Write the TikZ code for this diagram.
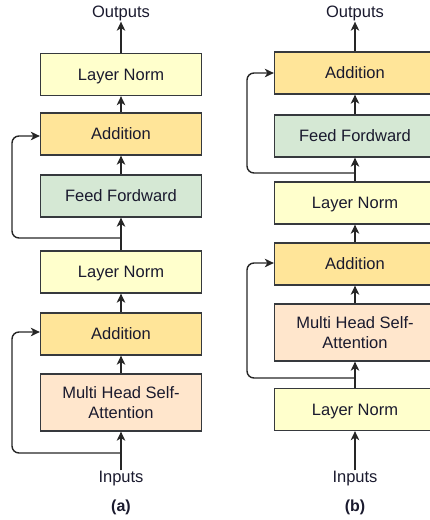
\documentclass[tikz,border=0pt]{standalone}
\usepackage{fontspec}
\setmainfont{Liberation Sans}
\usetikzlibrary{arrows.meta,calc}
\definecolor{lnfill}{HTML}{FFFFCC}
\definecolor{addfill}{HTML}{FFE599}
\definecolor{fffill}{HTML}{D5E8D4}
\definecolor{mhfill}{HTML}{FFE6CC}
\definecolor{edge}{HTML}{36393D}
\definecolor{txt}{HTML}{1A1A2E}
\tikzset{
  blk/.style={draw=edge, line width=1.3pt, minimum width=161pt, minimum height=42pt, inner sep=0pt, align=center, font=\fontsize{16.5}{20}\selectfont, text=txt},
  one/.style={text height=11.8pt, text depth=0pt},
  lnbox/.style={blk, one, fill=lnfill},
  addbox/.style={blk, one, fill=addfill},
  ffbox/.style={blk, one, fill=fffill},
  mhbox/.style={blk, fill=mhfill, minimum height=57pt},
  io/.style={font=\fontsize{16.5}{20}\selectfont, text=txt, inner sep=1pt},
  captxt/.style={font=\bfseries\fontsize{16}{19}\selectfont, text=txt},
  arr/.style={line width=1.4pt, draw=black!85, -{Stealth[length=9pt,width=8.5pt,inset=2.5pt]}},
  skip/.style={arr, rounded corners=7pt}
}
\begin{document}
\begin{tikzpicture}[x=1pt,y=-1pt]
\useasboundingbox (0,0) rectangle (430,520);
% (a)
\node[io] (outa) at (121,13) {Outputs};
\node[lnbox] (lna1) at (121,74.5) {Layer Norm};
\node[addbox] (adda1) at (121,134) {Addition};
\node[ffbox] (ffa) at (121,196) {Feed Fordward};
\node[lnbox] (lna2) at (121,272) {Layer Norm};
\node[addbox] (adda2) at (121,334) {Addition};
\node[mhbox] (mha) at (121,402.5) {Multi Head Self-\\Attention};
\node[io] (ina) at (121,479) {Inputs};
\node[captxt] (capa) at (121,507) {(a)};
\draw[arr] (lna1) -- (outa);
\draw[arr] (adda1) -- (lna1);
\draw[arr] (ffa) -- (adda1);
\draw[arr] (lna2) -- (ffa);
\draw[arr] (adda2) -- (lna2);
\draw[arr] (mha) -- (adda2);
\draw[arr] (ina) -- (mha);
\coordinate (sa1) at (121,238);
\coordinate (sa2) at (121,453);
\draw[skip] (sa1) -- (12,238) -- (12,136) -- (adda1.west |- 0,136);
\draw[skip] (sa2) -- (12,453) -- (12,332) -- (adda2.west |- 0,332);
% (b)
\node[io] (outb) at (355,13) {Outputs};
\node[addbox] (addb1) at (355,73) {Addition};
\node[ffbox] (ffb) at (355,136) {Feed Fordward};
\node[lnbox] (lnb1) at (355,203) {Layer Norm};
\node[addbox] (addb2) at (355,264) {Addition};
\node[mhbox] (mhb) at (355,332.5) {Multi Head Self-\\Attention};
\node[lnbox] (lnb2) at (355,409.5) {Layer Norm};
\node[io] (inb) at (355,479) {Inputs};
\node[captxt] (capb) at (355,507) {(b)};
\draw[arr] (addb1) -- (outb);
\draw[arr] (ffb) -- (addb1);
\draw[arr] (lnb1) -- (ffb);
\draw[arr] (addb2) -- (lnb1);
\draw[arr] (mhb) -- (addb2);
\draw[arr] (lnb2) -- (mhb);
\draw[arr] (inb) -- (lnb2);
\coordinate (sb1) at (355,173);
\coordinate (sb2) at (355,378);
\draw[skip] (sb1) -- (247,173) -- (247,73) -- (addb1.west);
\draw[skip] (sb2) -- (247,378) -- (247,263) -- (addb2.west |- 0,263);
\end{tikzpicture}
\end{document}
